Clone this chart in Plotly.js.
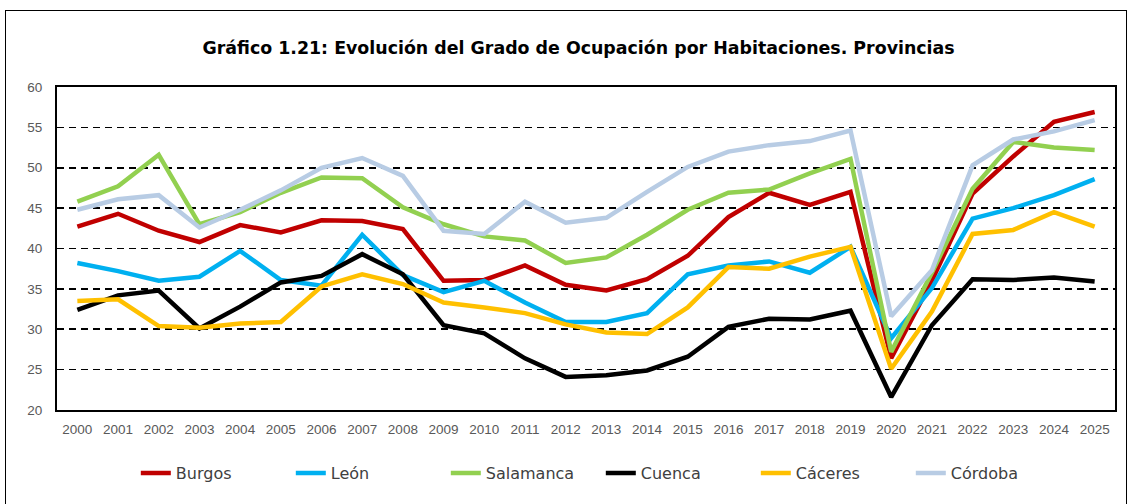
<!DOCTYPE html>
<html>
<head>
<meta charset="utf-8">
<script src="https://cdn.plot.ly/plotly-3.0.1.min.js"></script>
<style>
html,body{margin:0;padding:0;background:#fff;}
#wrap{position:relative;width:1130px;height:504px;}
#chart{position:absolute;left:0;top:0;width:1130px;height:504px;}
#frame{position:absolute;left:5px;top:10px;width:1120px;height:510px;border:1.5px solid #000;pointer-events:none;}
</style>
</head>
<body>
<div id="wrap"><div id="chart"></div><div id="frame"></div></div>
<script>
const years = ["2000","2001","2002","2003","2004","2005","2006","2007","2008","2009","2010","2011","2012","2013","2014","2015","2016","2017","2018","2019","2020","2021","2022","2023","2024","2025"];

const burgos    = [42.7,44.3,42.2,40.8,42.9,42.0,43.5,43.4,42.4,36.0,36.1,37.9,35.5,34.8,36.2,39.1,43.9,46.9,45.4,47.0,26.4,36.0,46.8,51.4,55.7,56.9];
const leon      = [38.2,37.2,36.0,36.5,39.7,36.1,35.4,41.7,36.7,34.6,36.0,33.3,30.9,30.9,32.0,36.8,37.9,38.4,37.0,40.2,28.9,35.1,43.7,45.0,46.6,48.6];
const salamanca = [45.8,47.7,51.6,43.0,44.5,46.9,48.8,48.7,45.1,43.0,41.5,41.0,38.2,38.9,41.7,44.8,46.9,47.3,49.3,51.1,27.2,37.0,47.4,53.2,52.5,52.2];
const cuenca    = [32.4,34.2,34.8,30.1,32.8,35.8,36.6,39.3,36.8,30.5,29.5,26.4,24.1,24.3,24.9,26.6,30.3,31.3,31.2,32.3,21.6,30.5,36.2,36.1,36.4,35.9];
const caceres   = [33.5,33.7,30.4,30.2,30.7,30.9,35.3,36.8,35.6,33.3,32.7,32.0,30.6,29.6,29.4,32.7,37.7,37.5,39.0,40.2,25.1,32.2,41.8,42.3,44.5,42.7];
const cordoba   = [44.8,46.1,46.6,42.6,44.8,47.2,50.0,51.2,49.0,42.2,41.8,45.8,43.2,43.8,47.0,50.1,52.0,52.8,53.3,54.6,31.6,37.3,50.3,53.5,54.5,55.9];

const names  = ["Burgos","León","Salamanca","Cuenca","Cáceres","Córdoba"];
const series = [burgos, leon, salamanca, cuenca, caceres, cordoba];
const colors = ["#C00000","#00B0F0","#92D050","#000000","#FFC000","#B8CCE4"];

const traces = series.map((s,i)=>({
  x: years, y: s, name: names[i], type: "scatter", mode: "lines",
  line: {color: colors[i], width: 4.5}
}));

const layout = {
  width: 1130, height: 504,
  margin: {l: 57, r: 15, t: 87, b: 94},
  paper_bgcolor: "#fff", plot_bgcolor: "#fff",
  title: {
    text: "<b>Gráfico 1.21: Evolución del Grado de Ocupación por Habitaciones. Provincias</b>",
    font: {family: "DejaVu Sans", size: 17.4, color: "#000"},
    x: 0.512, xanchor: "center", y: 0.905, yanchor: "middle"
  },
  xaxis: {
    type: "category", range: [-0.5, 25.5],
    showline: true, linecolor: "#000", linewidth: 2, mirror: true,
    showgrid: false, ticks: "",
    tickfont: {family: "Liberation Sans, Arial", size: 13.5, color: "#595959"},
    ticklabelstandoff: 6
  },
  yaxis: {
    range: [20, 60], dtick: 5, tick0: 20,
    showline: true, linecolor: "#000", linewidth: 2, mirror: true,
    showgrid: true, gridcolor: "#000", gridwidth: 1.6, griddash: "7px,5px",
    zeroline: false, ticks: "",
    tickfont: {family: "Liberation Sans, Arial", size: 13.5, color: "#595959"},
    ticklabelstandoff: 10
  },
  legend: {
    orientation: "h", x: 0.514, xanchor: "center", y: -0.195, yanchor: "middle",
    font: {family: "DejaVu Sans", size: 16, color: "#404040"},
    entrywidth: 110, entrywidthmode: "pixels"
  },
  showlegend: true
};

Plotly.newPlot("chart", traces, layout, {displayModeBar: false, staticPlot: true});
</script>
</body>
</html>
